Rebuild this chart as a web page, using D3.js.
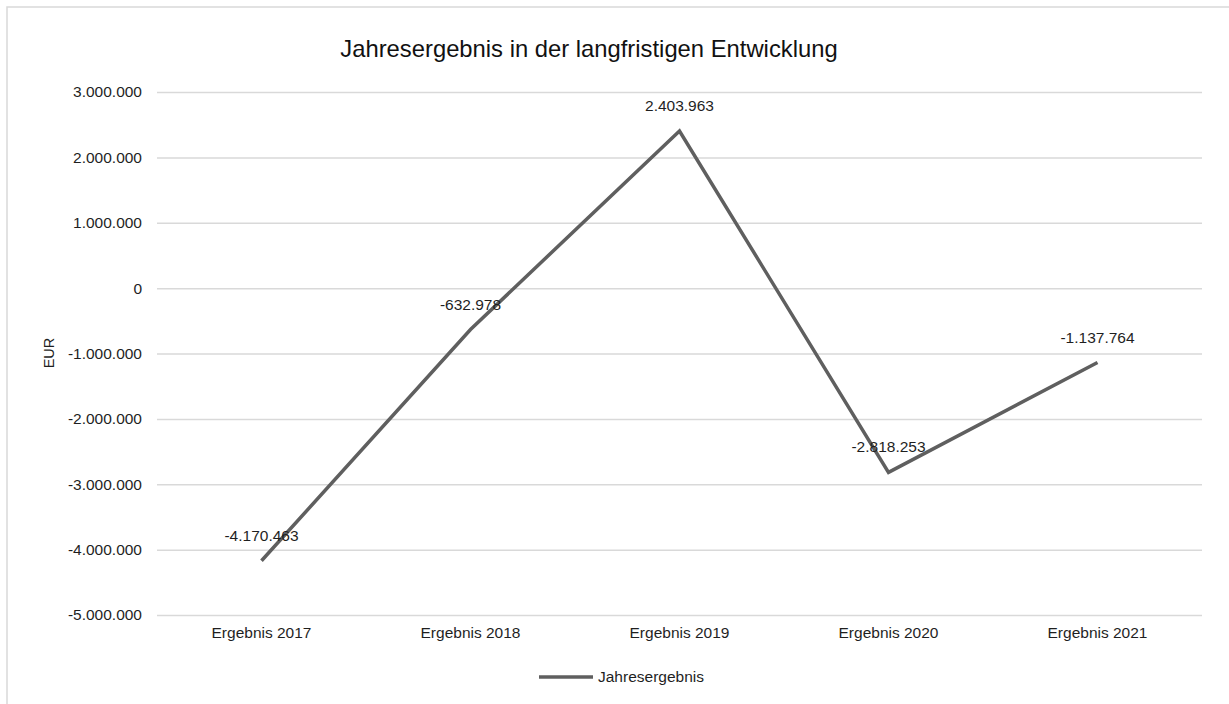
<!DOCTYPE html>
<html><head><meta charset="utf-8">
<script src="https://cdn.jsdelivr.net/npm/d3@7"></script>
<style>
html,body{margin:0;padding:0;background:#fff;overflow:hidden;}
svg{display:block;}
text{font-family:"Liberation Sans",Arial,Helvetica,sans-serif;}
</style></head>
<body>
<svg id="chart" width="1229" height="704"></svg>
<script>
const categories = ["Ergebnis 2017","Ergebnis 2018","Ergebnis 2019","Ergebnis 2020","Ergebnis 2021"];
const values = [-4170463, -632978, 2403963, -2818253, -1137764];
const yTicks = [3000000,2000000,1000000,0,-1000000,-2000000,-3000000,-4000000,-5000000];
const seriesName = "Jahresergebnis";
const chartTitle = "Jahresergebnis in der langfristigen Entwicklung";
const yTitle = "EUR";

const fmt = v => {
  const s = Math.abs(Math.round(v)).toString().replace(/\B(?=(\d{3})+(?!\d))/g, ".");
  return (v < 0 ? "-" : "") + s;
};

const svg = d3.select("#chart");
const pLeft = 157, pRight = 1202, pTop = 92, pBottom = 615;
const lineColor = "#5f5f5f";
const textColor = "#1f1f1f";

// chart frame (partially visible)
svg.append("rect").attr("x",7).attr("y",7).attr("width",1240).attr("height",720)
  .attr("fill","none").attr("stroke","#d9d9d9").attr("stroke-width",1.5);

const x = d3.scaleBand().domain(categories).range([pLeft,pRight]).padding(0);
const y = d3.scaleLinear().domain([-5000000,3000000]).range([pBottom,pTop]);

// gridlines + y tick labels
const yAxis = d3.axisLeft(y).tickValues(yTicks).tickSize(-(pRight-pLeft)).tickPadding(15).tickFormat(fmt);
const ga = svg.append("g").attr("transform",`translate(${pLeft},0)`).call(yAxis);
ga.select(".domain").remove();
ga.selectAll(".tick line").attr("stroke","#d9d9d9").attr("stroke-width",1.5);
ga.selectAll(".tick text").attr("fill",textColor).attr("font-size","15.5px")
  .attr("font-family",'"Liberation Sans",Arial,sans-serif');

// x axis labels
const xAxis = d3.axisBottom(x).tickSize(0).tickPadding(12);
const gx = svg.append("g").attr("transform",`translate(0,${pBottom})`).call(xAxis);
gx.select(".domain").remove();
gx.selectAll(".tick text").attr("fill",textColor).attr("font-size","15.5px")
  .attr("font-family",'"Liberation Sans",Arial,sans-serif');

// line
const line = d3.line().x((d,i)=>x(categories[i])+x.bandwidth()/2).y(d=>y(d));
svg.append("path").datum(values).attr("d",line).attr("fill","none")
  .attr("stroke",lineColor).attr("stroke-width",3.5).attr("stroke-linejoin","miter");

// data labels
svg.append("g").selectAll("text").data(values).join("text")
  .attr("x",(d,i)=>x(categories[i])+x.bandwidth()/2)
  .attr("y",d=>y(d)-20)
  .attr("text-anchor","middle").attr("fill",textColor).attr("font-size","15.5px")
  .text(d=>fmt(d));

// title
svg.append("text").attr("x",589).attr("y",57).attr("text-anchor","middle")
  .attr("font-size","23.8px").attr("fill","#111").text(chartTitle);

// y title
svg.append("text").attr("transform",`translate(53.5,353) rotate(-90)`)
  .attr("text-anchor","middle").attr("font-size","14.5px").attr("fill",textColor).text(yTitle);

// legend
svg.append("line").attr("x1",539).attr("x2",593).attr("y1",677).attr("y2",677)
  .attr("stroke",lineColor).attr("stroke-width",3.5);
svg.append("text").attr("x",598).attr("y",682).attr("font-size","15.5px")
  .attr("fill",textColor).text(seriesName);
</script>
</body></html>
